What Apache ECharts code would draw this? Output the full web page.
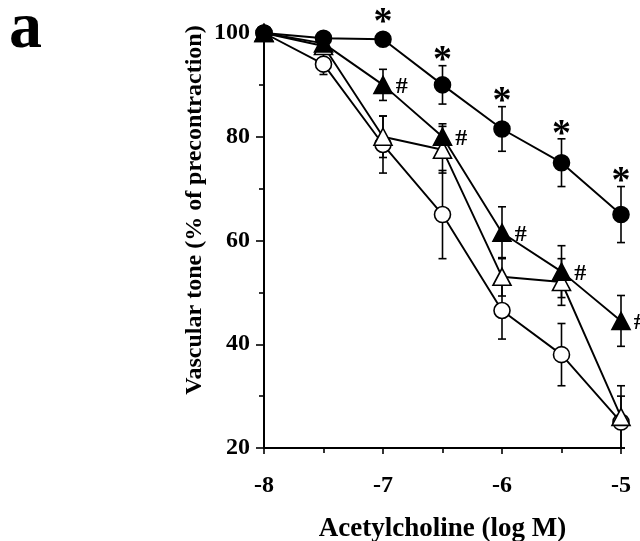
<!DOCTYPE html>
<html>
<head>
<meta charset="utf-8">
<script src="https://cdn.jsdelivr.net/npm/echarts@6/dist/echarts.min.js"></script>
<style>
  html, body { margin: 0; padding: 0; background: #fff; }
  #chart { width: 640px; height: 541px; }
</style>
</head>
<body>
<div id="chart"></div>
<script>
// acetylcholine doses (log M)
const doses = [-8, -7.5, -7, -6.5, -6, -5.5, -5]

// vascular tone, % of precontraction, with error bars
const filledCircle = [100, 99, 98.8, 90, 81.5, 75, 65]
const filledCircleErr = [0, 1, 1, 3.7, 4.3, 4.6, 5.4]
const filledTriangle = [100, 98, 90, 80, 61.5, 54, 44.5]
const filledTriangleErr = [0, 1.5, 3, 2.5, 5, 5, 4.9]
const openTriangle = [100, 97.5, 80, 77.5, 53, 52, 26]
const openTriangleErr = [0, 1.5, 4, 4.5, 3.7, 4.5, 6]
const openCircle = [100, 94, 78.5, 65, 46.5, 38, 25]
const openCircleErr = [0, 2, 5.5, 8.5, 5.5, 6, 5]

// significance marks
const circleStars = ['', '', '*', '*', '*', '*', '*']
const triangleHashes = ['', '', '#', '#', '#', '#', '#']

const font = 'Liberation Serif'
const chart = echarts.init(document.getElementById('chart'))

function pairs(vals) {
  return doses.map((d, i) => [d, vals[i]])
}

function errorSeries(vals, errs) {
  return {
    type: 'custom',
    z: 1,
    silent: true,
    data: doses.map((d, i) => [d, vals[i] - errs[i], vals[i] + errs[i]]),
    renderItem: (params, api) => {
      const lo = api.coord([api.value(0), api.value(1)])
      const hi = api.coord([api.value(0), api.value(2)])
      const w = 4
      const style = { stroke: '#000', lineWidth: 1.6 }
      return {
        type: 'group',
        children: [
          { type: 'line', shape: { x1: lo[0], y1: lo[1], x2: hi[0], y2: hi[1] }, style },
          { type: 'line', shape: { x1: lo[0] - w, y1: lo[1], x2: lo[0] + w, y2: lo[1] }, style },
          { type: 'line', shape: { x1: hi[0] - w, y1: hi[1], x2: hi[0] + w, y2: hi[1] }, style }
        ]
      }
    }
  }
}

// asterisks sit just above the top error cap
function starSeries(vals, errs, marks) {
  return {
    type: 'custom',
    z: 10,
    silent: true,
    data: doses.map((d, i) => [d, vals[i], vals[i] + errs[i]]),
    renderItem: (params, api) => {
      const mark = marks[params.dataIndex]
      if (!mark) return
      const c = api.coord([api.value(0), api.value(1)])
      const hi = api.coord([api.value(0), api.value(2)])
      const y = Math.min(hi[1] - 11, c[1] - 23)
      return {
        type: 'text',
        x: c[0],
        y: y + 7,
        style: {
          text: mark,
          font: 'bold 38px "Liberation Serif"',
          fill: '#000',
          align: 'center',
          verticalAlign: 'middle'
        }
      }
    }
  }
}

function lineSeries(vals, symbol, size, fill, z) {
  return {
    type: 'line',
    z: z,
    data: pairs(vals),
    symbol: symbol,
    symbolSize: size,
    showAllSymbol: true,
    lineStyle: { color: '#000', width: 1.9 },
    itemStyle: { color: fill, borderColor: '#000', borderWidth: 1.6 },
    animation: false
  }
}

const hashed = lineSeries(filledTriangle, 'triangle', [18, 17], '#000', 7)
hashed.label = {
  show: true,
  position: 'right',
  distance: 3,
  offset: [0, 2],
  formatter: p => triangleHashes[p.dataIndex],
  fontFamily: font,
  fontWeight: 'bold',
  fontSize: 24,
  color: '#000'
}

const tickStyle = { color: '#000', width: 1.6 }

const option = {
  animation: false,
  grid: { left: 264, right: 19, top: 33, bottom: 93, outerBoundsMode: 'none' },
  xAxis: {
    type: 'value',
    min: -8,
    max: -5,
    interval: 1,
    name: 'Acetylcholine (log M)',
    nameLocation: 'middle',
    nameGap: 68,
    nameTextStyle: { fontFamily: font, fontWeight: 'bold', fontSize: 27, color: '#000' },
    axisLine: { lineStyle: { color: '#000', width: 2 } },
    axisTick: { length: 6, lineStyle: tickStyle },
    minorTick: { show: true, splitNumber: 2, length: 5, lineStyle: tickStyle },
    axisLabel: { margin: 26, fontFamily: font, fontWeight: 'bold', fontSize: 24, color: '#000' },
    splitLine: { show: false }
  },
  yAxis: {
    type: 'value',
    min: 20,
    max: 100,
    interval: 20,
    axisLine: { show: true, lineStyle: { color: '#000', width: 2 } },
    axisTick: { show: true, length: 8, lineStyle: tickStyle },
    minorTick: { show: true, splitNumber: 2, length: 5, lineStyle: tickStyle },
    axisLabel: { margin: 14, fontFamily: font, fontWeight: 'bold', fontSize: 24, color: '#000' },
    splitLine: { show: false }
  },
  graphic: [
    {
      type: 'text',
      x: 9,
      y: 30,
      style: { text: 'a', font: 'bold 66px "Liberation Serif"', fill: '#000', verticalAlign: 'middle' }
    },
    {
      type: 'text',
      x: 195,
      y: 210,
      rotation: Math.PI / 2,
      style: {
        text: 'Vascular tone (% of precontraction)',
        font: 'bold 24px "Liberation Serif"',
        fill: '#000',
        align: 'center',
        verticalAlign: 'middle'
      }
    }
  ],
  series: [
    errorSeries(openCircle, openCircleErr),
    errorSeries(openTriangle, openTriangleErr),
    errorSeries(filledTriangle, filledTriangleErr),
    errorSeries(filledCircle, filledCircleErr),
    lineSeries(openCircle, 'circle', 16, '#fff', 5),
    lineSeries(openTriangle, 'triangle', [18, 17], '#fff', 6),
    hashed,
    lineSeries(filledCircle, 'circle', 16, '#000', 8),
    starSeries(filledCircle, filledCircleErr, circleStars)
  ]
}

chart.setOption(option)
</script>
</body>
</html>
